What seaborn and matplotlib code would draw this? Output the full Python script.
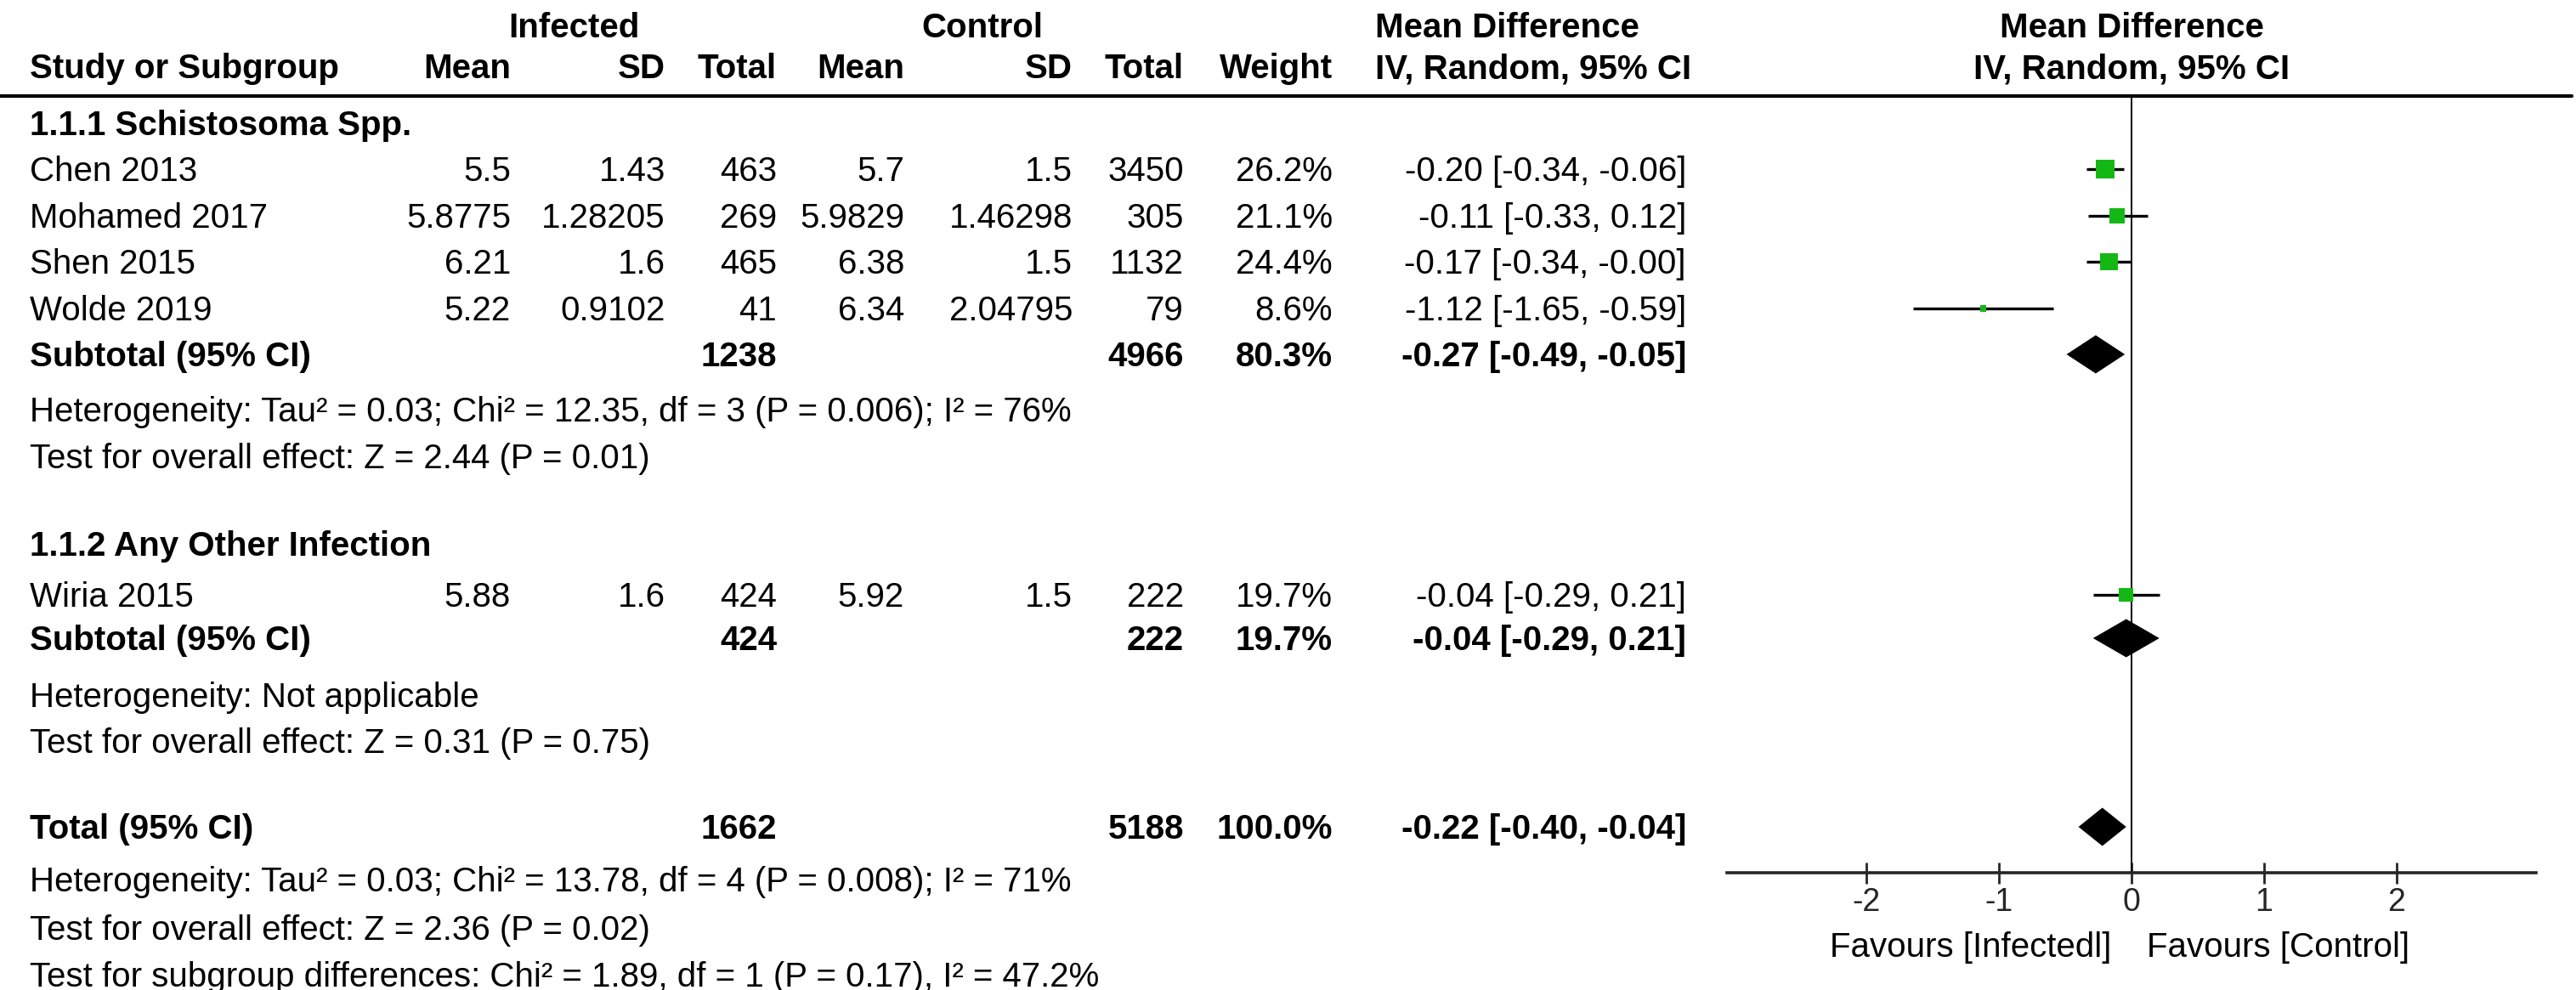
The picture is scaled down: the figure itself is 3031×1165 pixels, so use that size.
import matplotlib
matplotlib.use("Agg")
import matplotlib.pyplot as plt
import seaborn as sns
import pandas as pd

# ---- study data ----
studies = ["Chen 2013", "Mohamed 2017", "Shen 2015", "Wolde 2019", "Wiria 2015"]
inf_mean = ["5.5", "5.8775", "6.21", "5.22", "5.88"]
inf_sd = ["1.43", "1.28205", "1.6", "0.9102", "1.6"]
inf_n = [463, 269, 465, 41, 424]
ctl_mean = ["5.7", "5.9829", "6.38", "6.34", "5.92"]
ctl_sd = ["1.5", "1.46298", "1.5", "2.04795", "1.5"]
ctl_n = [3450, 305, 1132, 79, 222]
weight = [26.2, 21.1, 24.4, 8.6, 19.7]
md = [-0.20, -0.11, -0.17, -1.12, -0.04]
ci_lo = [-0.34, -0.33, -0.34, -1.65, -0.29]
ci_hi = [-0.06, 0.12, -0.00, -0.59, 0.21]

# ---- pooled estimates ----
pooled_names = ["Subtotal (95% CI)", "Subtotal (95% CI)", "Total (95% CI)"]
pooled_inf_n = [1238, 424, 1662]
pooled_ctl_n = [4966, 222, 5188]
pooled_weight = [80.3, 19.7, 100.0]
pooled_md = [-0.27, -0.04, -0.22]
pooled_lo = [-0.49, -0.29, -0.40]
pooled_hi = [-0.05, 0.21, -0.04]

section_names = ["1.1.1 Schistosoma Spp.", "1.1.2 Any Other Infection"]
stat_lines = [
    "Heterogeneity: Tau\u00b2 = 0.03; Chi\u00b2 = 12.35, df = 3 (P = 0.006); I\u00b2 = 76%",
    "Test for overall effect: Z = 2.44 (P = 0.01)",
    "Heterogeneity: Not applicable",
    "Test for overall effect: Z = 0.31 (P = 0.75)",
    "Heterogeneity: Tau\u00b2 = 0.03; Chi\u00b2 = 13.78, df = 4 (P = 0.008); I\u00b2 = 71%",
    "Test for overall effect: Z = 2.36 (P = 0.02)",
    "Test for subgroup differences: Chi\u00b2 = 1.89, df = 1 (P = 0.17), I\u00b2 = 47.2%",
]
xticks = [-2, -1, 0, 1, 2]

# ---- layout (pixels from top-left) ----
W, H = 3031, 1165
study_y = [199, 254, 308, 363, 700]
pooled_y = [417, 751, 973]
section_y = [145, 640]
stat_y = [482, 537, 818, 872, 1035, 1092, 1147]
col_x = [601, 783, 914, 1064, 1262, 1393, 1568, 1984]
zero_px, unit_px = 2508, 156
line_y, axis_y = 113, 1027
green = "#14b814"
FS = 29

sns.set_style("white")
plt.rcParams["font.family"] = ["Liberation Sans", "DejaVu Sans"]

fig = plt.figure(figsize=(W / 100, H / 100), dpi=100)


def put(x, y, s, ha="left", bold=False, size=FS):
    # y is the visual centre of capital letters
    base = y + 0.358 * size * 100 / 72
    fig.text(x / W, 1 - base / H, s, ha=ha, va="baseline", fontsize=size,
             fontweight="bold" if bold else "normal", color="black")


# header
put(675, 30, "Infected", ha="center", bold=True)
put(1156, 30, "Control", ha="center", bold=True)
put(1618, 30, "Mean Difference", bold=True)
put(zero_px, 30, "Mean Difference", ha="center", bold=True)
put(35, 78, "Study or Subgroup", bold=True)
for x, s in zip(col_x[:7], ["Mean", "SD", "Total", "Mean", "SD", "Total", "Weight"]):
    put(x, 78, s, ha="right", bold=True)
put(1618, 78, "IV, Random, 95% CI", bold=True)
put(zero_px, 78, "IV, Random, 95% CI", ha="center", bold=True)
fig.add_artist(plt.Line2D([0, 3026 / W], [1 - line_y / H] * 2, color="black", lw=3))

# table rows
for name, y in zip(section_names, section_y):
    put(35, y, name, bold=True)

for i, y in enumerate(study_y):
    vals = [inf_mean[i], inf_sd[i], str(inf_n[i]), ctl_mean[i], ctl_sd[i], str(ctl_n[i]),
            f"{weight[i]:.1f}%", f"{md[i]:.2f} [{ci_lo[i]:.2f}, {ci_hi[i]:.2f}]"]
    put(35, y, studies[i])
    for x, s in zip(col_x, vals):
        put(x, y, s, ha="right")

for i, y in enumerate(pooled_y):
    put(35, y, pooled_names[i], bold=True)
    vals = [str(pooled_inf_n[i]), str(pooled_ctl_n[i]), f"{pooled_weight[i]:.1f}%",
            f"{pooled_md[i]:.2f} [{pooled_lo[i]:.2f}, {pooled_hi[i]:.2f}]"]
    for x, s in zip([col_x[2], col_x[5], col_x[6], col_x[7]], vals):
        put(x, y, s, ha="right", bold=True)

for s, y in zip(stat_lines, stat_y):
    put(35, y, s)

# ---- forest panel ----
xmin, xmax = -3.05, 3.05
left_px = zero_px + xmin * unit_px
right_px = zero_px + xmax * unit_px
ax = fig.add_axes([left_px / W, 1 - axis_y / H, (right_px - left_px) / W, (axis_y - line_y) / H])
ax.set_xlim(xmin, xmax)
ax.set_ylim(axis_y, line_y)
ax.patch.set_alpha(0)

ax.axvline(0, color="black", lw=1.4, zorder=1)
ax.hlines(study_y, ci_lo, ci_hi, color="black", lw=2.4, zorder=2)

df = pd.DataFrame({"md": md, "y": study_y, "w": weight})
sizes = [(0.84 * w * 72 / 100) ** 2 for w in weight]
sns.scatterplot(data=df, x="md", y="y", marker="s", s=sizes, color=green,
                linewidth=0, legend=False, ax=ax, zorder=3)

half = 22.5
for est, lo, hi, y in zip(pooled_md, pooled_lo, pooled_hi, pooled_y):
    ax.fill([lo, est, hi, est], [y, y - half, y, y + half], color="black", lw=0, zorder=3)

for side in ["left", "right", "top"]:
    ax.spines[side].set_visible(False)
ax.spines["bottom"].set_linewidth(2.6)
ax.set_yticks([])
ax.set_xticks(xticks)
ax.set_xticklabels([str(t) for t in xticks])
ax.tick_params(axis="x", direction="inout", length=18, width=2, labelsize=27, pad=3,
               bottom=True)
ax.set_xlabel("")
ax.set_ylabel("")

put(2484, 1112, "Favours [Infectedl]", ha="right")
put(2526, 1112, "Favours [Control]", ha="left")

fig.savefig("out.png", dpi=100)
